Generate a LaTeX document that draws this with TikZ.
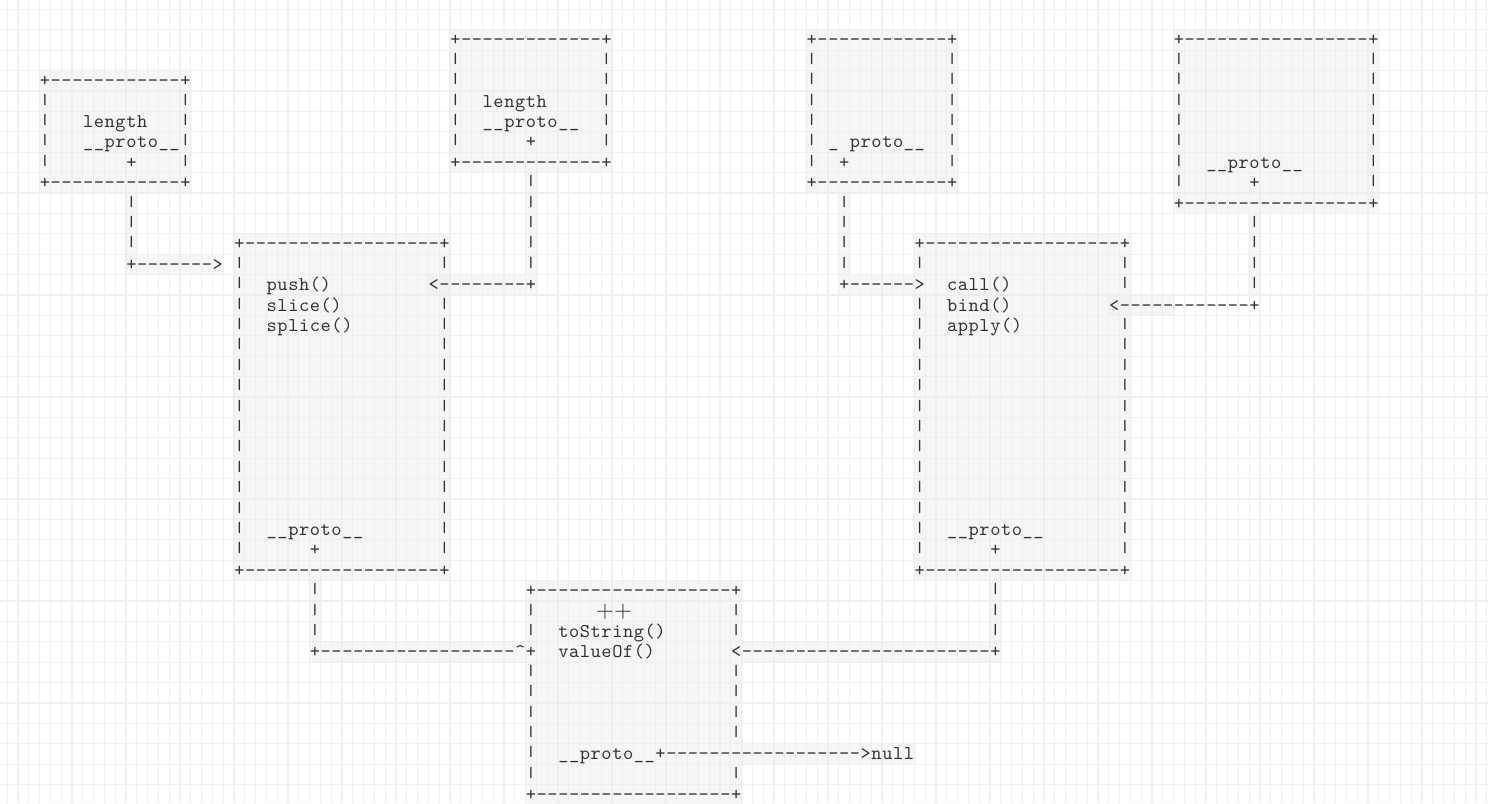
\documentclass[tikz,border=0pt]{standalone}
\usepackage{fontspec}
\usepackage{graphicx}
\newfontfamily\ascfont{lmmono10-regular.otf}
\newfontfamily\plusfont{lmroman10-regular.otf}
\definecolor{ink}{HTML}{333333}
\definecolor{gridc}{HTML}{F0F0F0}
\definecolor{hlc}{HTML}{EEEEEE}
\newcommand\mloop[1]{\ifx\relax#1\else\makebox[10.8pt]{#1}\expandafter\mloop\fi}
\newcommand\mono[1]{\mloop#1\relax}
\newcommand\vb{\raisebox{3pt}{\scalebox{1}[0.76]{|}}}
\tikzset{
  asc/.style={anchor=base west, inner sep=0pt, outer sep=0pt, text=ink,
    font={\ascfont\fontsize{19.5}{20}\selectfont}},
  plusglyph/.style={inner sep=0pt, text=ink, font={\plusfont\fontsize{23}{23}\selectfont}},
  gridline/.style={draw=gridc, line width=1.1pt},
  hilite/.style={fill=hlc, fill opacity=0.5}
}
% text node at column #2, row #3
\newcommand\tx[4]{\node[asc] (#1) at ({45+10.8*(#2)-5.4},{40+20.4*(#3)+5.8}) {\mono{#4}};}
% highlight block cols #1..#2, rows #3..#4
\newcommand\hlb[4]{\fill[hilite] ({45+10.8*(#1)-6.5},{40+20.4*(#3)-10.2}) rectangle ({45+10.8*(#2)+6.5},{40+20.4*(#4)+10.2});}
\begin{document}
\begin{tikzpicture}[x=1pt,y=-1pt]
\useasboundingbox (0,0) rectangle (1488,803);
\fill[white] (0,0) rectangle (1488,803);
% background grid
\foreach \i in {-5,...,133} \draw[gridline] ({45+10.8*(\i+0.5)},0) -- ++(0,803);
\foreach \j in {-2,...,37} \draw[gridline] (0,{40+20.4*(\j+0.5)}) -- ++(1488,0);
% highlights
\hlb{0}{13}{2}{7} \hlb{8}{8}{8}{10} \hlb{8}{16}{11}{11}
\hlb{38}{52}{0}{6} \hlb{45}{45}{7}{11} \hlb{36}{45}{12}{12}
\hlb{18}{37}{10}{26} \hlb{25}{25}{27}{29} \hlb{25}{44}{30}{30}
\hlb{71}{84}{0}{7} \hlb{74}{74}{8}{11} \hlb{74}{80}{12}{12}
\hlb{81}{100}{10}{26} \hlb{88}{88}{27}{29} \hlb{65}{88}{30}{30}
\hlb{105}{123}{0}{8} \hlb{112}{112}{9}{12} \hlb{99}{104}{13}{13}
\hlb{45}{64}{27}{37} \hlb{65}{80}{35}{35}
% ---- box 1 ----
\tx{b1top}{0}{2}{+------------+}
\foreach \r in {3,...,6} {\tx{b1l\r}{0}{\r}{\vb}\tx{b1r\r}{13}{\r}{\vb}}
\tx{b1len}{4}{4}{length}
\tx{b1pro}{4}{5}{\_\_proto\_\_}
\tx{b1plus}{8}{6}{+}
\tx{b1bot}{0}{7}{+------------+}
\foreach \r in {8,9,10} {\tx{c1v\r}{8}{\r}{\vb}}
\tx{c1h}{8}{11}{+------->}
% ---- box 2 ----
\tx{b2top}{38}{0}{+-------------+}
\foreach \r in {1,...,5} {\tx{b2l\r}{38}{\r}{\vb}\tx{b2r\r}{52}{\r}{\vb}}
\tx{b2len}{41}{3}{length}
\tx{b2pro}{41}{4}{\_\_proto\_\_}
\tx{b2plus}{45}{5}{+}
\tx{b2bot}{38}{6}{+-------------+}
\foreach \r in {7,...,11} {\tx{c2v\r}{45}{\r}{\vb}}
\tx{c2h}{36}{12}{<--------+}
% ---- box 5 (Array.prototype) ----
\tx{b5top}{18}{10}{+------------------+}
\foreach \r in {11,...,25} {\tx{b5l\r}{18}{\r}{\vb}}
\foreach \r in {11,13,14,...,25} {\tx{b5r\r}{37}{\r}{\vb}}
\tx{b5push}{21}{12}{push()}
\tx{b5slice}{21}{13}{slice()}
\tx{b5splice}{21}{14}{splice()}
\tx{b5pro}{21}{24}{\_\_proto\_\_}
\tx{b5plus}{25}{25}{+}
\tx{b5bot}{18}{26}{+------------------+}
\foreach \r in {27,28,29} {\tx{c5v\r}{25}{\r}{\vb}}
\tx{c5h}{25}{30}{+------------------\textasciicircum+}
% ---- middle box (Object.prototype) ----
\tx{mtop}{45}{27}{+------------------+}
\foreach \r in {28,29,31,32,...,36} {\tx{ml\r}{45}{\r}{\vb}}
\foreach \r in {28,29,31,32,33,34,36} {\tx{mr\r}{64}{\r}{\vb}}
\node[plusglyph] (mpp) at (614,612) {++};
\tx{mts}{48}{29}{toString()}
\tx{mvo}{48}{30}{valueOf()}
\tx{mpro}{48}{35}{\_\_proto\_\_+------------------>null}
\tx{mbot}{45}{37}{+------------------+}
% ---- box 3 ----
\tx{b3top}{71}{0}{+------------+}
\foreach \r in {1,...,6} {\tx{b3l\r}{71}{\r}{\vb}\tx{b3r\r}{84}{\r}{\vb}}
\tx{b3u}{73}{5}{\_}
\tx{b3pro}{75}{5}{proto\_\_}
\tx{b3plus}{74}{6}{+}
\tx{b3bot}{71}{7}{+------------+}
\foreach \r in {8,...,11} {\tx{c3v\r}{74}{\r}{\vb}}
\tx{c3h}{74}{12}{+------>}
% ---- box 6 (Function.prototype) ----
\tx{b6top}{81}{10}{+------------------+}
\foreach \r in {11,13,14,...,25} {\tx{b6l\r}{81}{\r}{\vb}}
\foreach \r in {11,12,14,15,...,25} {\tx{b6r\r}{100}{\r}{\vb}}
\tx{b6call}{84}{12}{call()}
\tx{b6bind}{84}{13}{bind()}
\tx{b6apply}{84}{14}{apply()}
\tx{b6pro}{84}{24}{\_\_proto\_\_}
\tx{b6plus}{88}{25}{+}
\tx{b6bot}{81}{26}{+------------------+}
\foreach \r in {27,28,29} {\tx{c6v\r}{88}{\r}{\vb}}
\tx{c6h}{64}{30}{<-----------------------+}
% ---- box 4 ----
\tx{b4top}{105}{0}{+-----------------+}
\foreach \r in {1,...,7} {\tx{b4l\r}{105}{\r}{\vb}\tx{b4r\r}{123}{\r}{\vb}}
\tx{b4pro}{108}{6}{\_\_proto\_\_}
\tx{b4plus}{112}{7}{+}
\tx{b4bot}{105}{8}{+-----------------+}
\foreach \r in {9,...,12} {\tx{c4v\r}{112}{\r}{\vb}}
\tx{c4h}{99}{13}{<------------+}
\end{tikzpicture}
\end{document}
